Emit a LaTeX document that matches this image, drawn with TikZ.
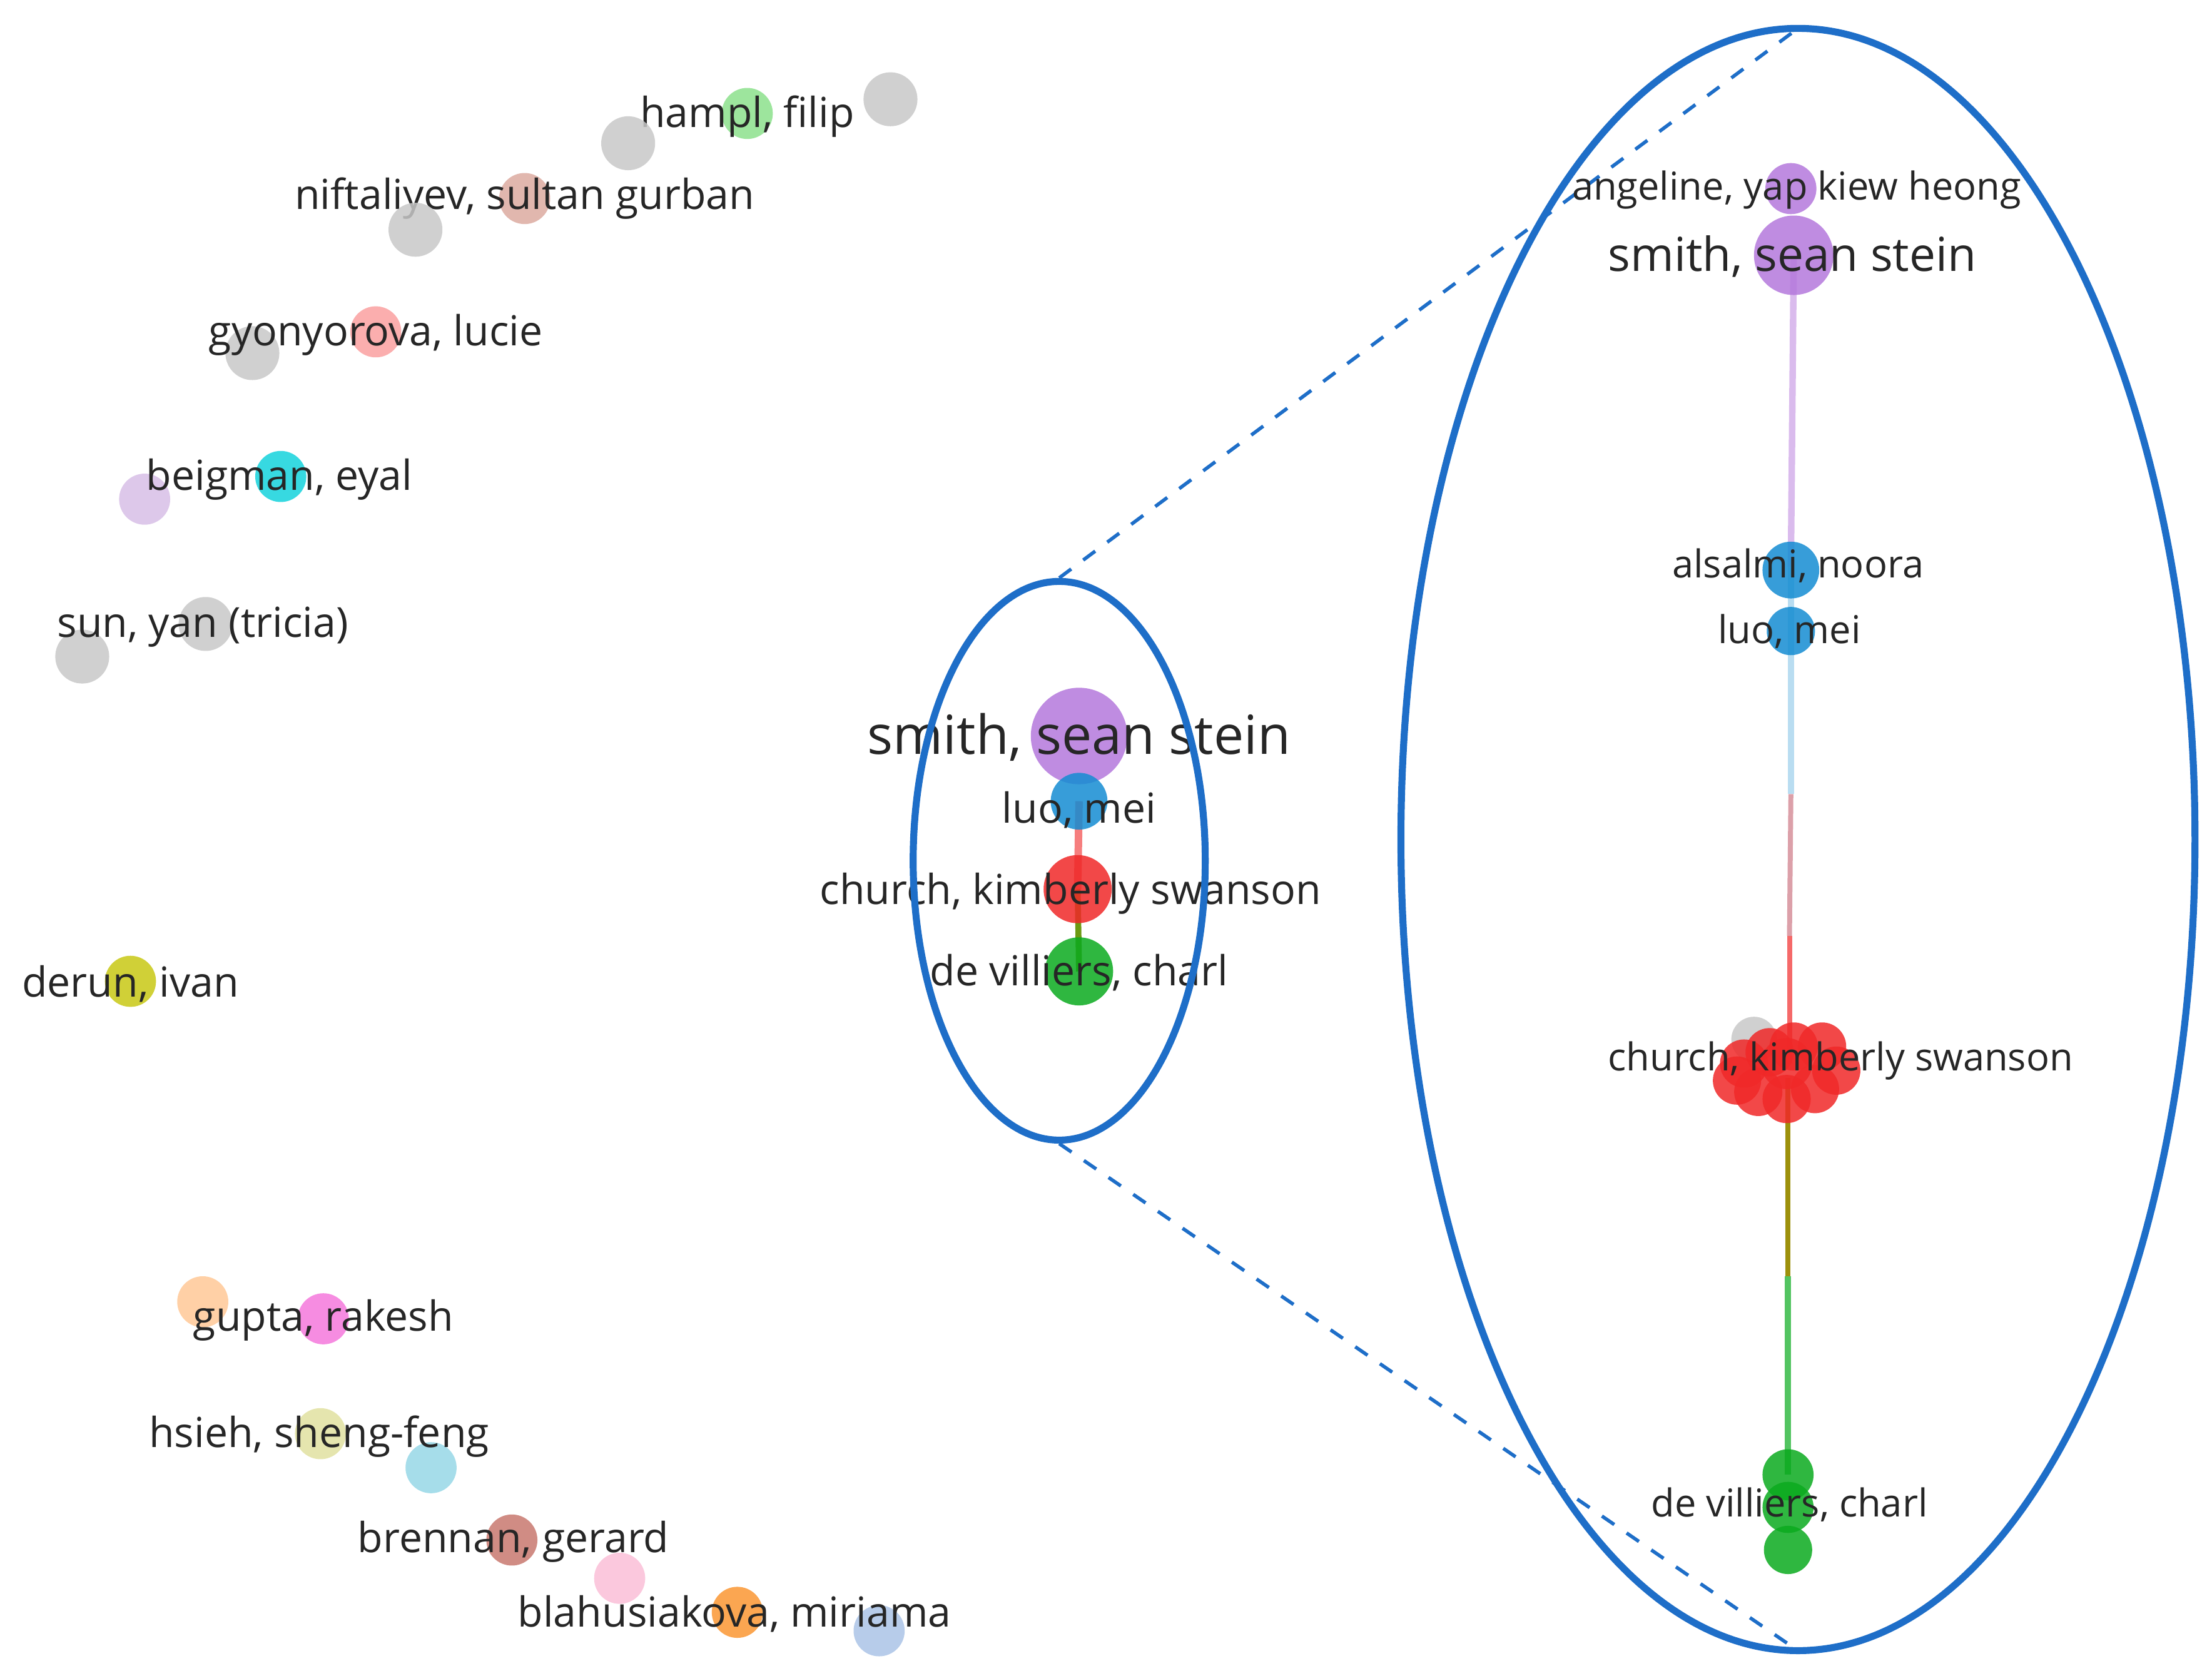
\documentclass[tikz,border=0pt]{standalone}
\usepackage{fontspec}
\setmainfont{Open Sans}
\usetikzlibrary{shapes.geometric}
\begin{document}
\begin{tikzpicture}[x=0.01cm,y=-0.01cm,
  dot/.style={circle,inner sep=0pt,minimum size=#1*0.02cm,opacity=0.85},
  lab/.style={font=\fontsize{8.3pt}{9pt}\selectfont,text=black!85,inner sep=0pt},
  rlab/.style={font=\fontsize{7.7pt}{9pt}\selectfont,text=black!85,inner sep=0pt},
  biglab/.style={font=\fontsize{10.8pt}{12pt}\selectfont,text=black!85,inner sep=0pt},
  rbiglab/.style={font=\fontsize{9.4pt}{11pt}\selectfont,text=black!85,inner sep=0pt},
  zoomring/.style={draw={rgb,255:red,30;green,110;blue,200},line width=1.4pt},
  zoomline/.style={draw={rgb,255:red,30;green,110;blue,200},dashed,line width=0.7pt}]
\useasboundingbox (0,0) rectangle (1560,1178);
\definecolor{gr}{RGB}{200,200,200}
\definecolor{pu}{RGB}{180,120,220}
\definecolor{bl}{RGB}{20,140,210}
\definecolor{rd}{RGB}{240,40,40}
\definecolor{gn}{RGB}{10,170,30}
% left singletons
\node[dot=19,fill=gr] (g1) at (628,70) {};
\node[dot=18,fill={rgb,255:red,140;green,225;blue,140}] (hampl) at (527,80) {};
\node[lab] (thampl) at (527,82) {hampl, filip};
\node[dot=19,fill=gr] (g2) at (443,101) {};
\node[dot=18,fill={rgb,255:red,220;green,170;blue,160}] (nift) at (370,140) {};
\node[lab] (tnift) at (370,140) {niftaliyev, sultan gurban};
\node[dot=19,fill=gr] (g3) at (293,162) {};
\node[dot=18,fill={rgb,255:red,250;green,160;blue,160}] (gyon) at (265,234) {};
\node[dot=19,fill=gr] (g4) at (178,249) {};
\node[lab] (tgyon) at (265,236) {gyonyorova, lucie};
\node[dot=18,fill={rgb,255:red,20;green,210;blue,220}] (beig) at (198,336) {};
\node[dot=18,fill={rgb,255:red,215;green,190;blue,230}] (lav) at (102,352) {};
\node[lab] (tbeig) at (197,338) {beigman, eyal};
\node[dot=19,fill=gr] (sun) at (145,440) {};
\node[dot=19,fill=gr] (g5) at (58,463) {};
\node[lab] (tsun) at (143,442) {sun, yan (tricia)};
\node[dot=18,fill={rgb,255:red,200;green,200;blue,20}] (derun) at (92,692) {};
\node[lab] (tderun) at (92,694) {derun, ivan};
\node[dot=18,fill={rgb,255:red,255;green,200;blue,150}] (peach) at (143,918) {};
\node[dot=18,fill={rgb,255:red,245;green,120;blue,220}] (gupta) at (228,930) {};
\node[lab] (tgupta) at (228,931) {gupta, rakesh};
\node[dot=18,fill={rgb,255:red,225;green,225;blue,160}] (hsieh) at (226,1011) {};
\node[dot=18,fill={rgb,255:red,150;green,215;blue,230}] (lblue) at (304,1035) {};
\node[lab] (thsieh) at (225,1013) {hsieh, sheng-feng};
\node[dot=18,fill={rgb,255:red,200;green,120;blue,110}] (bren) at (361,1086) {};
\node[dot=18,fill={rgb,255:red,250;green,190;blue,215}] (pk) at (437,1113) {};
\node[lab] (tbren) at (362,1087) {brennan, gerard};
\node[dot=18,fill={rgb,255:red,250;green,150;blue,50}] (blah) at (520,1137) {};
\node[dot=18,fill={rgb,255:red,170;green,195;blue,230}] (steel) at (620,1150) {};
\node[lab] (tblah) at (518,1138) {blahusiakova, miriama};
% middle cluster
\draw[rd!60,line width=1.5pt] (761,565) -- (760,627);
\draw[gn!60!orange,line width=1.2pt] (760,627) -- (761,685);
\node[dot=34,fill=pu] (msmith) at (761,519) {};
\node[dot=20,fill=bl] (mluo) at (761,565) {};
\node[dot=24,fill=rd] (mchurch) at (760,627) {};
\node[dot=24,fill=gn] (mdev) at (761,685) {};
\node[biglab] at (761,520) {smith, sean stein};
\node[lab] at (761,571) {luo, mei};
\node[lab] at (755,630) {church, kimberly swanson};
\node[lab] at (761,686) {de villiers, charl};
\node[zoomring,ellipse,inner sep=0pt,minimum width=206*0.01cm,minimum height=394*0.01cm] (me) at (747,607) {};
% right zoom
\coordinate (rt) at (1268,20);
\coordinate (rb) at (1268,1164);
\draw[zoomline] (me.north) -- (rt);
\draw[zoomline] (me.south) -- (rb);
\draw[pu!50,line width=1.3pt] (1265,180) -- (1263,400);
\draw[bl!30,line width=1.3pt] (1263,400) -- (1263,560);
\draw[bl!25!rd!50,line width=1pt] (1263,560) -- (1262,660);
\draw[rd!70,line width=1pt] (1262,660) -- (1262,750);
\draw[orange!60!gn,line width=1pt] (1261,760) -- (1261,900);
\draw[gn!70,line width=1.3pt] (1261,900) -- (1261,1040);
\node[dot=18,fill=pu] (rang) at (1263,133) {};
\node[dot=28,fill=pu] (rsmith) at (1265,180) {};
\node[dot=20,fill=bl] (ralsa) at (1263,402) {};
\node[dot=17,fill=bl] (rluo) at (1263,445) {};
\node[dot=16,fill=gr] (rg) at (1237,733) {};
\foreach \p in {(1230,750),(1248,742),(1265,738),(1285,738),(1295,755),(1240,770),(1260,775),(1280,768),(1225,762)}
  \node[dot=17,fill=rd] at \p {};
\node[dot=18,fill=rd] (rchurch) at (1260,750) {};
\node[dot=18,fill=gn] (rdev1) at (1261,1040) {};
\node[dot=18,fill=gn] (rdev2) at (1261,1063) {};
\node[dot=17,fill=gn] (rdev3) at (1261,1093) {};
\node[rlab] at (1267,134) {angeline, yap kiew heong};
\node[rbiglab] at (1264,181) {smith, sean stein};
\node[rlab] at (1268,399) {alsalmi, noora};
\node[rlab] at (1262,445) {luo, mei};
\node[rlab] at (1298,748) {church, kimberly swanson};
\node[rlab] at (1262,1061) {de villiers, charl};
\node[zoomring,ellipse,inner sep=0pt,minimum width=560*0.01cm,minimum height=1144*0.01cm] (re) at (1268,592) {};
\end{tikzpicture}
\end{document}
